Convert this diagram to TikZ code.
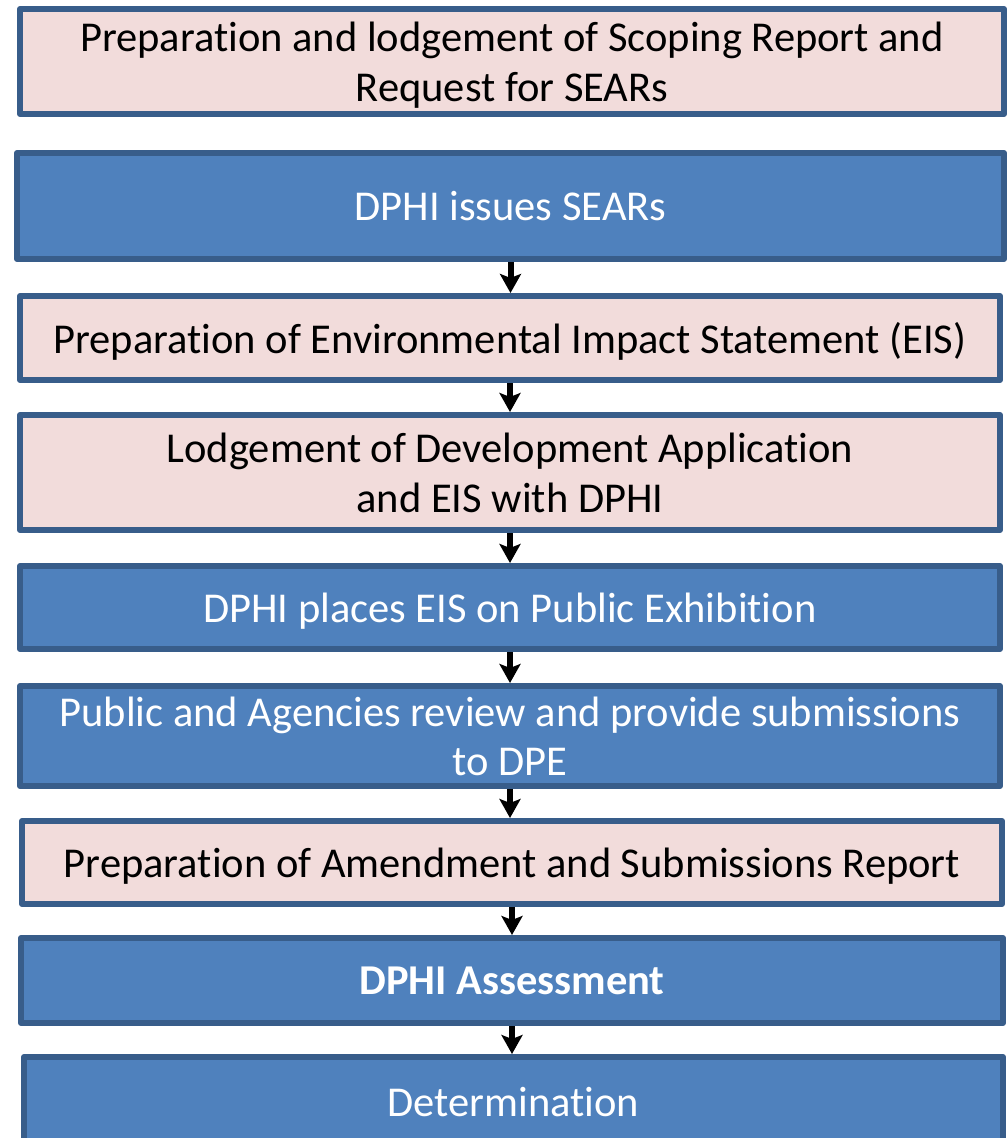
\documentclass[tikz,border=0pt]{standalone}
\usepackage{fontspec}
\setmainfont{Carlito}[Ligatures=NoCommon]
\usetikzlibrary{arrows.meta}
\definecolor{stageline}{HTML}{385D8A}
\definecolor{stageblue}{HTML}{4F81BD}
\definecolor{stagepink}{HTML}{F2DCDB}
\begin{document}
\begin{tikzpicture}[x=1pt,y=-1pt,line join=round]
	\tikzstyle{stage}=[rectangle,draw=stageline,line width=6pt,align=center,inner sep=0pt,text depth=0pt,font=\fontsize{42.5}{49.5}\selectfont]
	\tikzstyle{pinkbox}=[stage,fill=stagepink,text=black]
	\tikzstyle{bluebox}=[stage,fill=stageblue,text=white]
	\tikzstyle{flow}=[line width=6pt,-{Stealth[width=21pt,length=19pt,inset=4pt]}]
	\useasboundingbox (0,0) rectangle (1008,1138);
	\node[pinkbox,minimum width=984pt,minimum height=105pt] (S1) at (512,61.5) {Preparation and lodgement of Scoping Report and\\Request for SEARs};
	\node[bluebox,minimum width=987pt,minimum height=106pt] (S2) at (510.5,206) {DPHI issues SEARs};
	\node[pinkbox,minimum width=980pt,minimum height=84pt] (S3) at (510,338) {Preparation of Environmental Impact Statement (EIS)};
	\node[pinkbox,minimum width=980pt,minimum height=115pt] (S4) at (510,472.5) {Lodgement of Development Application\\and EIS with DPHI};
	\node[bluebox,minimum width=980pt,minimum height=83pt] (S5) at (510,607.5) {DPHI places EIS on Public Exhibition};
	\node[bluebox,minimum width=980pt,minimum height=100pt] (S6) at (510,736) {Public and Agencies review and provide submissions\\to DPE};
	\node[pinkbox,minimum width=980pt,minimum height=83pt] (S7) at (512,862.5) {Preparation of Amendment and Submissions Report};
	\node[bluebox,minimum width=982pt,minimum height=85pt] (S8) at (512,980.5) {\bfseries DPHI Assessment};
	\node[bluebox,minimum width=979pt,minimum height=90pt] (S9) at (513.5,1102) {Determination};
	\foreach \a/\b in {S2/S3, S3/S4, S4/S5, S5/S6, S6/S7, S7/S8, S8/S9} {\draw[flow] (\a.south) -- (\a.south |- \b.north);}
\end{tikzpicture}
\end{document}
